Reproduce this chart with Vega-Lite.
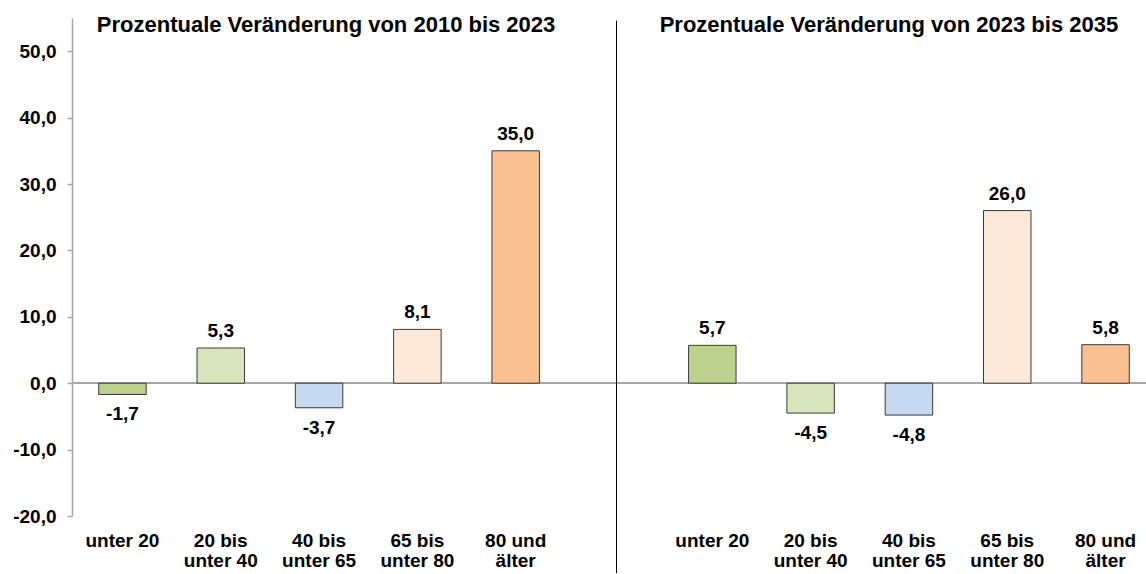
{
  "$schema": "https://vega.github.io/schema/vega-lite/v6.json",
  "autosize": {"type": "none"},
  "width": 1084,
  "height": 498,
  "padding": {"left": 72, "top": 18, "right": 0, "bottom": 58},
  "background": "white",
  "config": {
    "view": {"stroke": null},
    "locale": {"number": {"decimal": ",", "thousands": ".", "grouping": [3], "currency": ["", " €"], "minus": "-"}},
    "text": {"font": "Liberation Sans", "fontWeight": "bold", "color": "black"}
  },
  "datasets": {
    "bars": [
      {"key": "L1", "group": "unter 20", "label": "unter 20", "change": -1.7},
      {"key": "L2", "group": "20 bis unter 40", "label": "20 bis\nunter 40", "change": 5.3},
      {"key": "L3", "group": "40 bis unter 65", "label": "40 bis\nunter 65", "change": -3.7},
      {"key": "L4", "group": "65 bis unter 80", "label": "65 bis\nunter 80", "change": 8.1},
      {"key": "L5", "group": "80 und älter", "label": "80 und\nälter", "change": 35.0},
      {"key": "R1", "group": "unter 20", "label": "unter 20", "change": 5.7},
      {"key": "R2", "group": "20 bis unter 40", "label": "20 bis\nunter 40", "change": -4.5},
      {"key": "R3", "group": "40 bis unter 65", "label": "40 bis\nunter 65", "change": -4.8},
      {"key": "R4", "group": "65 bis unter 80", "label": "65 bis\nunter 80", "change": 26.0},
      {"key": "R5", "group": "80 und älter", "label": "80 und\nälter", "change": 5.8}
    ]
  },
  "data": {"name": "bars"},
  "encoding": {
    "x": {
      "field": "key",
      "type": "nominal",
      "sort": null,
      "scale": {"domain": ["L1", "L2", "L3", "L4", "L5", "gap", "R1", "R2", "R3", "R4", "R5"], "paddingInner": 0.517, "paddingOuter": 0.2715},
      "axis": null
    }
  },
  "layer": [
    {
      "mark": {"type": "rule", "color": "#A6A6A6", "strokeWidth": 1.5},
      "encoding": {"x": null, "y": {"datum": 0, "type": "quantitative"}}
    },
    {
      "mark": {"type": "bar", "stroke": "#3a3a3a", "strokeWidth": 1},
      "encoding": {
        "y": {
          "field": "change",
          "type": "quantitative",
          "scale": {"domain": [-20, 55], "nice": false, "zero": false},
          "axis": {
            "values": [-20, -10, 0, 10, 20, 30, 40, 50],
            "format": ".1f",
            "grid": false,
            "title": null,
            "domainColor": "#A6A6A6",
            "domainWidth": 1.5,
            "tickColor": "#A6A6A6",
            "tickSize": 5,
            "tickWidth": 1.5,
            "labelPadding": 11,
            "labelFont": "Liberation Sans",
            "labelFontWeight": "bold",
            "labelFontSize": 19,
            "labelColor": "black"
          }
        },
        "color": {
          "field": "group",
          "type": "nominal",
          "scale": {
            "domain": ["unter 20", "20 bis unter 40", "40 bis unter 65", "65 bis unter 80", "80 und älter"],
            "range": ["#BCD18E", "#D8E4BC", "#C5D9F1", "#FDE9D9", "#FAC090"]
          },
          "legend": null
        }
      }
    },
    {
      "transform": [{"filter": "datum.change >= 0"}],
      "mark": {"type": "text", "baseline": "alphabetic", "dy": -11, "fontSize": 19},
      "encoding": {
        "y": {"field": "change", "type": "quantitative"},
        "text": {"field": "change", "type": "quantitative", "format": ".1f"}
      }
    },
    {
      "transform": [{"filter": "datum.change < 0"}],
      "mark": {"type": "text", "baseline": "alphabetic", "dy": 26, "fontSize": 19},
      "encoding": {
        "y": {"field": "change", "type": "quantitative"},
        "text": {"field": "change", "type": "quantitative", "format": ".1f"}
      }
    },
    {
      "mark": {"type": "text", "baseline": "alphabetic", "dy": 30.5, "fontSize": 19, "lineBreak": "\n", "lineHeight": 20},
      "encoding": {
        "y": {"datum": -20, "type": "quantitative"},
        "text": {"field": "label"}
      }
    },
    {
      "data": {"values": [{"key": "gap"}]},
      "mark": {"type": "rule", "color": "black", "strokeWidth": 1, "xOffset": 2.5, "clip": false},
      "encoding": {
        "y": {"datum": 54.6, "type": "quantitative"},
        "y2": {"datum": -28.6}
      }
    },
    {
      "data": {"values": [{"key": "L3", "title": "Prozentuale Veränderung von 2010 bis 2023"}]},
      "mark": {"type": "text", "baseline": "alphabetic", "dx": 7, "dy": 13.6, "fontSize": 22},
      "encoding": {
        "y": {"datum": 55, "type": "quantitative"},
        "text": {"field": "title"}
      }
    },
    {
      "data": {"values": [{"key": "R3", "title": "Prozentuale Veränderung von 2023 bis 2035"}]},
      "mark": {"type": "text", "baseline": "alphabetic", "dx": -20, "dy": 13.6, "fontSize": 22},
      "encoding": {
        "y": {"datum": 55, "type": "quantitative"},
        "text": {"field": "title"}
      }
    }
  ]
}
